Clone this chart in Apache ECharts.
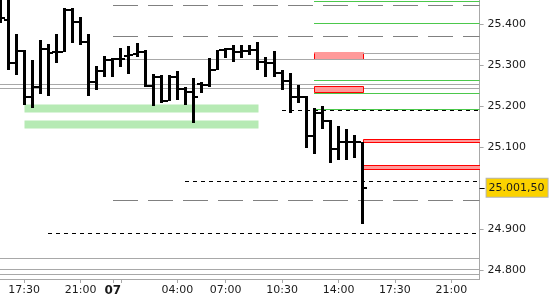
<!DOCTYPE html>
<html><head><meta charset="utf-8">
<script src="https://cdn.jsdelivr.net/npm/echarts@6/dist/echarts.min.js"></script>
<style>html,body{margin:0;padding:0;background:#fff}#c{width:550px;height:300px}</style>
</head><body><div id="c"></div>
<script>
// 30-minute slots (06 = previous day, 07 = current day)
const categories = ['06 16:00','06 16:30','06 17:00','06 17:30','06 18:00','06 18:30','06 19:00','06 19:30','06 20:00','06 20:30','06 21:00','06 21:30','06 23:00','06 23:30',
 '07 00:00','07 00:30','07 01:00','07 01:30','07 02:00','07 02:30','07 03:00','07 03:30','07 04:00','07 04:30','07 05:00','07 05:30','07 06:00','07 06:30',
 '07 07:00','07 07:30','07 08:00','07 08:30','07 09:00','07 09:30','07 10:00','07 10:30','07 11:00','07 11:30','07 12:00','07 12:30','07 13:00','07 13:30',
 '07 14:00','07 14:30','07 15:00','07 15:30','07 16:00','07 16:30','07 17:00','07 17:30','07 18:00','07 18:30','07 19:00','07 19:30','07 20:00','07 20:30',
 '07 21:00','07 21:30','07 22:00','07 22:30'];

const opens  = [25435,25410,25306,25335,25223,25247,25340,25332,25332,25435,25406,25357,25259,25286,25313,25315,25323,25328,25332,25250,25272,25213,25272,25242,25235,25254,25252,25289,25337,25340,25332,25335,25337,25308,25306,25281,25262,25223,25223,25128,25184,25164,25096,25113,25113,25113];
const closes = [25415,25306,25335,25223,25247,25340,25330,25332,25435,25406,25357,25259,25286,25313,25315,25315,25325,25332,25250,25272,25213,25272,25242,25235,25223,25252,25289,25337,25340,25332,25335,25337,25308,25306,25281,25262,25223,25223,25128,25184,25164,25096,25113,25113,25113,25001.5];
const lows   = [25403,25289,25276,25203,25196,25230,25225,25306,25332,25354,25350,25225,25240,25272,25272,25296,25279,25320,25247,25201,25208,25213,25215,25203,25160,25233,25247,25289,25318,25308,25318,25325,25289,25272,25272,25240,25184,25208,25098,25084,25145,25062,25069,25069,25074,24913];
const highs  = [25475,25470,25376,25337,25313,25362,25352,25376,25440,25440,25418,25376,25298,25323,25318,25342,25347,25354,25337,25279,25276,25276,25286,25247,25269,25259,25318,25337,25342,25350,25350,25350,25357,25320,25335,25289,25281,25252,25225,25196,25201,25167,25152,25145,25130,25113];

const yTicks = [24800,24900,25100,25200,25300,25400];
const lastPrice = 25001.5;
const xLabelSlots = [3,10,14,22,28,35,42,49,56];
const xTickSlots = [3,10,14,15,22,28,35,42,49,56];
const daySlot = 14;

// horizontal levels: [startSlot, price]
const greenLines = [[39,25456.1],[39,25402.4],[39,25263.5],[39,25231.8],[39,25192.9]];
const grayDashLines = [[14,25446.3],[14,25371.5],[14,24971.8]];
const graySolidLines = [[45,25329.3],[14,25314.7]];
const grayFullLines = [25253.8,25244.0,24829.7,24802.9,24792.2];
const blackDashLines = [[35,25190.4],[23,25018.1],[6,24891.4]];
// zones: [startSlot, endSlot(null = to right edge), top, bottom]
const greenZones = [[3,32,25205.8,25187.0],[3,32,25166.8,25146.6]];
const redZonesOpen = [[39,45,25333.2,25314.7,25329.3]];   // last: top of red edges
const redZones = [[39,45,25249.6,25233.8],[45,null,25119.7,25113.2],[45,null,25057.1,25046.6]];

const yMin = 24779.3, yMax = 25459.2;
const FONT = 'DejaVu Sans';

function de(v, dec) {
  const neg = v < 0; v = Math.abs(v);
  let s = dec ? v.toFixed(dec) : String(Math.round(v));
  let [ip, fp] = s.split('.');
  ip = ip.replace(/\B(?=(\d{3})+(?!\d))/g, '.');
  return (neg ? '-' : '') + ip + (fp ? ',' + fp : '');
}

function levelSeries(data, full, color, dash, z) {
  return {
    type: 'custom', coordinateSystem: 'cartesian2d', clip: true, silent: true, z: z,
    data: full ? data.map(p => [0, p]) : data,
    encode: { x: 0, y: 1 },
    renderItem: function (params, api) {
      const cs = params.coordSys;
      const p = api.coord([api.value(0), api.value(1)]);
      const x0 = full ? cs.x : Math.round(p[0]);
      const y = Math.round(p[1]) + 0.5;
      return { type: 'line', shape: { x1: x0, y1: y, x2: cs.x + cs.width, y2: y },
        style: { stroke: color, lineWidth: 1, lineDash: dash || null } };
    }
  };
}

function zoneSeries(data, fill, stroke, z, sidesOnly) {
  return {
    type: 'custom', coordinateSystem: 'cartesian2d', clip: true, silent: true, z: z,
    data: data.map(d => [d[0], d[1] == null ? -1 : d[1], d[2], d[3], d[4] == null ? d[2] : d[4]]),
    encode: { x: [0, 1], y: [2, 3] },
    renderItem: function (params, api) {
      const cs = params.coordSys;
      const a = api.coord([api.value(0), api.value(2)]);
      const endIdx = api.value(1);
      const b = api.coord([endIdx < 0 ? 0 : endIdx, api.value(3)]);
      const e = api.coord([api.value(0), api.value(4)]);
      const x0 = Math.round(a[0]) + 0.5;
      const x1 = endIdx < 0 ? cs.x + cs.width + 2 : Math.round(b[0]) + 0.5;
      const y0 = Math.round(a[1]) + 0.5, y1 = Math.round(b[1]) + 0.5;
      if (!sidesOnly) {
        return { type: 'rect', shape: { x: x0, y: y0, width: x1 - x0, height: y1 - y0 },
          style: { fill: fill, stroke: stroke || null, lineWidth: stroke ? 1 : 0 } };
      }
      const ye = Math.round(e[1]) + 0.5;
      return { type: 'group', children: [
        { type: 'rect', shape: { x: x0 - 0.5, y: y0 - 0.5, width: x1 - x0 + 1, height: y1 - y0 + 1 }, style: { fill: fill } },
        { type: 'line', shape: { x1: x0, y1: ye, x2: x0, y2: y1 }, style: { stroke: stroke, lineWidth: 1 } },
        { type: 'line', shape: { x1: x1, y1: ye, x2: x1, y2: y1 }, style: { stroke: stroke, lineWidth: 1 } }
      ] };
    }
  };
}

const ohlc = opens.map((o, i) => [i, o, closes[i], lows[i], highs[i]]);

const chart = echarts.init(document.getElementById('c'), null, { renderer: 'canvas' });
chart.setOption({
  animation: false,
  backgroundColor: '#ffffff',
  grid: { left: -4.03, right: 70.4, top: 0, bottom: 21, containLabel: false, outerBoundsMode: 'none' },
  xAxis: {
    type: 'category', data: categories, boundaryGap: true,
    axisLine: { show: true, lineStyle: { color: '#a8a8a8', width: 1 } },
    axisTick: { show: true, alignWithLabel: true, length: 4, lineStyle: { color: '#a8a8a8' },
      interval: function (idx) { return xTickSlots.indexOf(idx) >= 0; } },
    axisLabel: {
      interval: function (idx) { return xLabelSlots.indexOf(idx) >= 0; },
      formatter: function (val, idx) { return idx === daySlot ? '{b|' + val.slice(0, 2) + '}' : val.slice(3); },
      color: '#1a1a1a', fontFamily: FONT, fontSize: 11, margin: 6, hideOverlap: false,
      rich: { b: { fontWeight: 'bold', fontFamily: FONT, fontSize: 12, color: '#1a1a1a' } }
    },
    splitLine: { show: false }
  },
  yAxis: [{
    type: 'value', position: 'right', min: yMin, max: yMax, scale: true,
    axisLine: { show: true, lineStyle: { color: '#a8a8a8' } },
    axisTick: { show: true, length: 4, customValues: yTicks, lineStyle: { color: '#a8a8a8' } },
    axisLabel: { customValues: yTicks, formatter: v => de(v, 0), color: '#1a1a1a', fontFamily: FONT, fontSize: 11, margin: 8 },
    splitLine: { show: false }
  }, {
    type: 'value', position: 'right', min: yMin, max: yMax, scale: true,
    axisLine: { show: false },
    axisTick: { show: true, length: 5, customValues: [lastPrice], lineStyle: { color: '#000' } },
    axisLabel: { customValues: [lastPrice], formatter: v => de(v, 2), color: '#1a1a1a', fontFamily: FONT, fontSize: 11,
      margin: 7, backgroundColor: '#fbd200', borderColor: '#b4b4b4', borderWidth: 1, padding: [4, 3, 3, 2] },
    splitLine: { show: false }
  }],
  series: [
    zoneSeries(greenZones, '#b6eab4', null, 1),
    levelSeries(grayFullLines, true, '#a8a8a8', null, 2),
    levelSeries(graySolidLines, false, '#a8a8a8', null, 4),
    levelSeries(grayDashLines, false, '#808080', [25, 10], 2),
    zoneSeries(redZones, '#ff9a9a', '#ff0000', 3),
    zoneSeries(redZonesOpen, '#ff9a9a', '#ff0000', 3, true),
    levelSeries(greenLines, false, '#4cc84c', null, 3),
    levelSeries(blackDashLines, false, '#000000', [4, 4], 3),
    {
      type: 'custom', coordinateSystem: 'cartesian2d', clip: true, silent: true, z: 5,
      data: ohlc, encode: { x: 0, y: [1, 2, 3, 4] },
      renderItem: function (params, api) {
        const i = api.value(0);
        const o = api.coord([i, api.value(1)]);
        const c = api.coord([i, api.value(2)]);
        const l = api.coord([i, api.value(3)]);
        const h = api.coord([i, api.value(4)]);
        const xl = Math.round(o[0] - 1.5);
        const yh = Math.round(h[1]), yl = Math.round(l[1]);
        return { type: 'group', children: [
          { type: 'rect', shape: { x: xl, y: yh, width: 3, height: Math.max(1, yl - yh) }, style: { fill: '#000' } },
          { type: 'rect', shape: { x: xl - 3, y: Math.round(o[1]) - 1, width: 3, height: 2 }, style: { fill: '#000' } },
          { type: 'rect', shape: { x: xl + 3, y: Math.round(c[1]) - 1, width: 3, height: 2 }, style: { fill: '#000' } }
        ] };
      }
    }
  ]
});
</script></body></html>
